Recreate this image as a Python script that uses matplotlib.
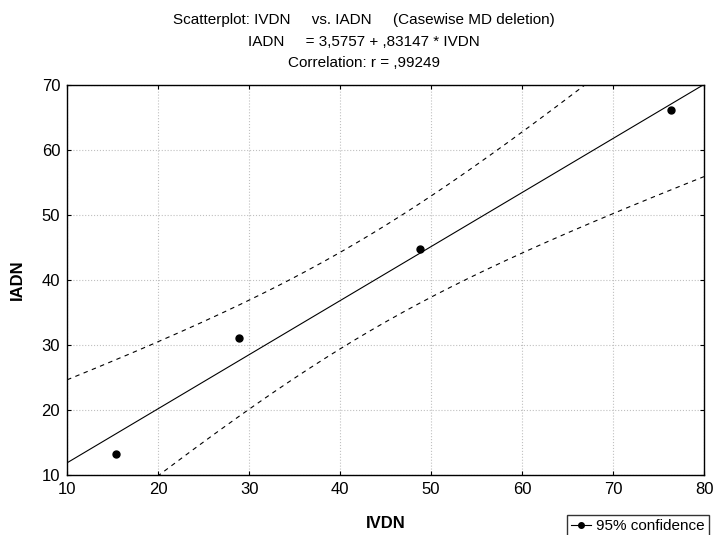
import numpy as np
import matplotlib
matplotlib.use("Agg")
import matplotlib.pyplot as plt
from matplotlib.lines import Line2D

plt.rcParams['font.family'] = ['Liberation Sans', 'DejaVu Sans']

# data
ivdn = [15.4, 28.9, 48.8, 76.4]
iadn = [13.2, 31.1, 44.8, 66.2]
intercept = 3.5757
slope = 0.83147
t_crit = 4.303  # t(0.975, df=2)

x = np.array(ivdn)
y = np.array(iadn)
xs = np.linspace(10, 80, 200)
fit = intercept + slope * xs
resid = y - (intercept + slope * x)
s = np.sqrt(np.sum(resid ** 2) / (len(x) - 2))
sxx = np.sum((x - x.mean()) ** 2)
half = t_crit * s * np.sqrt(1 / len(x) + (xs - x.mean()) ** 2 / sxx)

fig = plt.figure(figsize=(7.14, 5.35), dpi=100)
ax = fig.add_axes([0.094, 0.112, 0.892, 0.729])
ax.plot(xs, fit, color="black", lw=0.8)
ax.plot(xs, fit + half, color="black", lw=0.8, ls=(0, (4, 4)))
ax.plot(xs, fit - half, color="black", lw=0.8, ls=(0, (4, 4)))
ax.scatter(x, y, s=25, color="black", zorder=3)
ax.set_xlim(10, 80)
ax.set_ylim(10, 70)
ax.set_xticks(range(10, 81, 10))
ax.set_yticks(range(10, 71, 10))
ax.grid(True, color="#c0c0c0", ls=":", lw=0.8)
ax.tick_params(labelsize=12, length=3, direction="in", top=True, right=True, pad=5)
ax.set_xlabel("IVDN", fontsize=12, fontweight="bold", labelpad=14)
ax.set_ylabel("IADN", fontsize=12, fontweight="bold", labelpad=12)
for sp in ax.spines.values():
    sp.set_linewidth(1.0)

fig.text(0.51, 0.962, "Scatterplot: IVDN     vs. IADN     (Casewise MD deletion)",
         ha="center", va="center", fontsize=11)
fig.text(0.51, 0.922, "IADN     = 3,5757 + ,83147 * IVDN",
         ha="center", va="center", fontsize=11)
fig.text(0.51, 0.882, "Correlation: r = ,99249",
         ha="center", va="center", fontsize=11)

h = Line2D([0], [0], color="black", lw=0.8, marker="o", markersize=4)
fig.legend([h], ["95% confidence"], loc="upper left", bbox_to_anchor=(0.794, 0.038),
           fontsize=11, frameon=True, fancybox=False, edgecolor="black",
           handlelength=1.3, borderpad=0.3, handletextpad=0.3, borderaxespad=0)

fig.savefig("out.png", dpi=100)
